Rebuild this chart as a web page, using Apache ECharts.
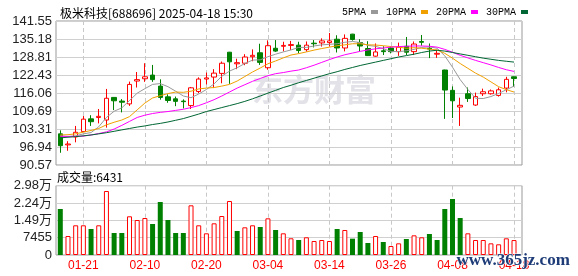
<!DOCTYPE html>
<html><head><meta charset="utf-8">
<script src="https://cdn.jsdelivr.net/npm/echarts@6/dist/echarts.min.js"></script>
<style>html,body{margin:0;padding:0;background:#fff}#c{width:578px;height:276px}</style>
</head><body><div id="c"></div>
<script>
const dates = ['01-16','01-17','01-20','01-21','01-22','01-23','01-24','01-27','02-05','02-06','02-07','02-10','02-11','02-12','02-13','02-14','02-17','02-18','02-19','02-20','02-21','02-24','02-25','02-26','02-27','02-28','03-03','03-04','03-05','03-06','03-07','03-10','03-11','03-12','03-13','03-14','03-17','03-18','03-19','03-20','03-21','03-24','03-25','03-26','03-27','03-28','03-31','04-01','04-02','04-03','04-07','04-08','04-09','04-10','04-11','04-14','04-15','04-16','04-17','04-18'];
const labelDates = ['01-21','02-10','02-20','03-04','03-14','03-26','04-08','04-18'];
// [open, close, low, high]
const ohlc = [
[101.6,97.4,94.9,102.85],[97.7,98.0,95.6,99.0],[100.5,102.15,98.6,104.4],[102.4,106.8,102.2,107.9],
[106.9,105.9,104.4,108.2],[107.4,107.8,105.3,110.4],[106.5,114.2,103.8,117.5],[114.5,113.3,110.0,114.6],
[113.2,112.8,109.2,113.9],[112.2,119.1,111.5,120.1],[120.3,120.8,118.0,123.5],[121.1,121.8,120.0,126.6],
[122.4,120.8,120.0,126.0],[118.5,114.5,113.7,120.9],[114.7,113.4,112.6,115.6],[114.0,113.1,111.4,114.8],
[113.2,113.0,110.6,113.8],[111.6,117.9,110.4,118.2],[116.6,121.0,116.0,121.6],[121.0,121.4,119.1,123.3],
[121.7,123.1,117.8,124.5],[123.0,126.6,119.5,127.2],[130.5,127.1,119.3,130.6],[126.4,126.8,124.5,128.2],
[126.6,128.8,125.9,129.8],[128.9,129.4,127.3,131.5],[130.3,126.9,126.0,133.5],[125.0,132.8,124.3,134.7],
[131.9,130.9,130.6,134.8],[132.6,132.9,130.8,134.2],[132.9,133.2,131.3,134.5],[133.0,131.1,130.1,134.2],
[131.4,133.0,130.7,134.3],[133.7,133.5,132.2,134.8],[133.8,134.5,132.5,135.4],[133.9,134.5,132.5,137.3],
[135.1,132.0,130.4,136.5],[132.0,135.4,130.8,136.8],[136.9,135.0,134.6,137.0],[133.9,132.7,130.9,135.1],
[131.8,129.3,129.2,134.4],[129.1,130.6,128.9,133.6],[131.0,130.7,129.5,132.6],[132.0,130.7,130.1,132.6],
[130.7,132.3,129.2,133.9],[132.6,130.5,129.5,135.9],[130.7,133.4,129.5,134.3],[134.3,134.0,132.8,136.6],
[131.9,131.6,128.4,133.6],[129.8,130.1,128.5,131.2],[124.2,117.1,106.9,124.3],[117.0,113.3,107.2,118.4],
[111.1,111.7,104.4,114.4],[115.8,114.1,112.9,118.0],[111.8,114.8,111.5,116.2],[115.8,116.5,115.0,117.6],
[115.8,116.8,115.5,117.3],[115.2,117.2,114.8,118.0],[117.8,120.9,116.3,121.8],[121.8,121.2,118.2,121.9]
];
const ma5 = [100.9,100.6,100.9,101.6,102.05,104.1,107.4,109.6,110.8,113.4,116.0,117.6,119.1,119.4,118.3,116.7,115.0,114.4,115.7,117.3,119.3,122.0,123.8,125.0,126.5,127.7,127.8,128.9,129.8,130.6,131.3,132.2,132.2,132.7,133.1,133.3,133.5,134.0,134.3,133.9,132.9,132.6,131.7,130.8,130.7,131.0,131.5,132.2,132.4,131.9,129.2,125.2,120.8,117.3,114.2,114.1,114.8,115.9,117.2,118.5];
const ma10 = [101.2,101.3,101.6,102.2,102.8,103.5,104.8,105.7,106.5,107.7,110.1,112.5,114.3,115.1,115.85,116.4,116.3,116.7,117.5,117.8,118.0,118.5,119.1,120.3,121.9,123.5,124.9,126.4,127.4,128.5,129.5,130.0,130.6,131.25,131.8,132.3,132.8,133.1,133.5,133.5,133.1,133.05,132.8,132.5,132.3,131.9,132.1,131.9,131.6,131.3,130.1,128.4,126.5,124.8,123.1,121.7,120.0,118.3,117.25,116.4];
const ma20 = [100.7,100.7,100.7,100.8,101.2,101.7,102.3,103.3,104.6,106.0,107.4,108.2,108.8,109.2,109.5,109.9,110.3,110.9,111.6,112.6,113.7,115.0,116.4,117.8,119.0,120.2,121.2,122.2,122.9,123.3,123.8,124.2,125.0,125.9,126.9,127.9,128.8,129.6,130.2,130.8,131.3,131.7,132.0,132.3,132.5,132.6,132.7,132.7,132.6,132.3,131.5,130.5,129.4,128.5,127.6,126.8,126.0,125.1,124.3,123.7];
const ma30 = [100.2,100.4,100.6,100.9,101.2,101.6,102.0,102.5,103.0,103.5,104.0,104.4,104.9,105.3,105.8,106.4,107.0,107.8,108.6,109.5,110.2,110.9,111.6,112.3,113.1,114.0,115.0,116.0,117.0,118.0,118.8,119.7,120.5,121.3,122.1,122.9,123.6,124.4,125.1,125.8,126.4,127.0,127.6,128.2,128.8,129.3,129.8,130.4,130.9,131.2,130.9,130.4,129.9,129.4,128.9,128.4,128.0,127.6,127.3,127.0];
const volume = [19800,8180,12780,12780,11190,12780,27540,9470,9470,16650,15060,15920,13340,22800,15060,9470,9470,21380,12780,9330,13630,16780,23240,10330,11910,12780,12050,15780,10760,9330,7190,6450,7620,6020,6450,6020,11190,10760,7030,9900,5160,8180,5590,3870,5020,6880,8460,7620,9040,6450,19790,24100,15920,9330,6450,6450,5020,4600,7180,6431];
const volUp = [0,1,1,1,0,1,1,0,0,1,1,1,0,0,0,0,0,1,1,1,1,1,1,0,1,1,0,1,0,1,1,0,1,1,1,1,0,1,0,0,0,1,0,1,1,0,1,1,0,0,0,0,0,1,1,1,1,1,1,1];
const priceTicks = ['90.57','96.94','103.31','109.69','116.06','122.43','128.81','135.18','141.55'];
const volTicks = ['0','7455','1.49万','2.24万','2.98万'];
const title = '极米科技[688696] 2025-04-18 15:30';

const RED = '#ff0000', GREEN = '#008000';
const maColors = ['#999999', '#f0a000', '#ff00ff', '#006633'];
const maNames = ['5PMA', '10PMA', '20PMA', '30PMA'];
const maData = [ma5, ma10, ma20, ma30];
const isLabel = (i, v) => labelDates.includes(v);
const dashLine = { show: true, alignWithLabel: true, interval: isLabel, lineStyle: { color: '#c8c8c8', type: [4, 3], width: 1 } };
const font = 'Liberation Sans, Arial, Noto Sans CJK SC, sans-serif';

const chart = echarts.init(document.getElementById('c'), null, { renderer: 'canvas' });
const dataLeft = 56.45, dataWidth = 461.4;
chart.setOption({
  animation: false,
  backgroundColor: '#fff',
  title: { text: title, left: 55, top: 2, textStyle: { fontSize: 12, fontWeight: 'normal', color: '#000', fontFamily: 'Noto Sans CJK SC, sans-serif' } },
  legend: {
    data: maNames, left: 337, top: 2, align: 'right', icon: 'rect', itemWidth: 7, itemHeight: 4, itemGap: 8,
    textStyle: { fontSize: 10, color: '#000', fontFamily: 'Liberation Mono, monospace', padding: [0, 0, 0, 0] }
  },
  graphic: [
    { type: 'text', left: 252, top: 74, z: 0, silent: true, style: { text: '东方财富', fontSize: 31, fontWeight: 'bold', fill: '#e2e2e8', fontFamily: 'Noto Sans CJK SC' } },
    { type: 'text', left: 57, top: 171, style: { text: '成交量:' + volume[volume.length - 1], fontSize: 12, fill: '#000', fontFamily: 'Noto Sans CJK SC, sans-serif' } },
    { type: 'text', left: 456, top: 252, z: 100, style: { text: 'www.365jz.com', fontSize: 17, fontWeight: 'bold', fill: '#1e3c78', fontFamily: 'Liberation Serif, serif', stroke: '#fff', lineWidth: 1 } }
  ],
  grid: [
    { left: 56, top: 21, width: 466, height: 144, show: true, borderColor: '#999', borderWidth: 1, backgroundColor: 'transparent' },
    { left: dataLeft, top: 21, width: dataWidth, height: 144 },
    { left: 56, top: 185.7, width: 466, height: 69.3, show: true, borderColor: '#999', borderWidth: 1, backgroundColor: 'transparent' },
    { left: dataLeft, top: 185.7, width: dataWidth, height: 69.3 }
  ],
  xAxis: [
    { gridIndex: 0, type: 'value', min: 0, max: 1, show: false },
    { gridIndex: 1, type: 'category', data: dates, boundaryGap: true, axisLine: { show: false }, axisTick: { show: false }, axisLabel: { show: false }, splitLine: dashLine },
    { gridIndex: 2, type: 'value', min: 0, max: 1, show: false },
    { gridIndex: 3, type: 'category', data: dates, boundaryGap: true, axisLine: { show: false }, axisTick: { show: false },
      axisLabel: { show: true, interval: isLabel, color: RED, fontSize: 12, margin: 5, fontFamily: font }, splitLine: dashLine }
  ],
  yAxis: [
    { gridIndex: 0, type: 'value', min: 0, max: 8, interval: 1, axisLine: { show: false }, axisTick: { show: false },
      axisLabel: { formatter: v => priceTicks[v], fontSize: 13, color: '#222', margin: 4, fontFamily: font },
      splitLine: { show: true, lineStyle: { color: '#d0d0d0', width: 1 } } },
    { gridIndex: 1, type: 'value', min: 90.57, max: 141.55, show: false },
    { gridIndex: 2, type: 'value', min: 0, max: 4, interval: 1, axisLine: { show: false }, axisTick: { show: false },
      axisLabel: { formatter: v => volTicks[v], fontSize: 13, color: '#222', margin: 4, fontFamily: font },
      splitLine: { show: true, lineStyle: { color: '#d0d0d0', width: 1 } } },
    { gridIndex: 3, type: 'value', min: 0, max: 29820, show: false }
  ],
  series: [
    { type: 'candlestick', xAxisIndex: 1, yAxisIndex: 1, data: ohlc, barWidth: 5, z: 3,
      itemStyle: { color: '#ffffff', borderColor: RED, color0: GREEN, borderColor0: GREEN, borderWidth: 1 } },
    ...maNames.map((n, k) => ({
      name: n, type: 'line', xAxisIndex: 1, yAxisIndex: 1, data: maData[k], symbol: 'none', z: 4,
      itemStyle: { color: maColors[k] }, lineStyle: { color: maColors[k], width: 1 }
    })),
    { type: 'bar', xAxisIndex: 3, yAxisIndex: 3, barWidth: 5,
      data: volume.map((v, i) => ({ value: v, itemStyle: volUp[i] ? { color: '#ffffff', borderColor: RED, borderWidth: 1 } : { color: GREEN } })) }
  ]
});
</script></body></html>
